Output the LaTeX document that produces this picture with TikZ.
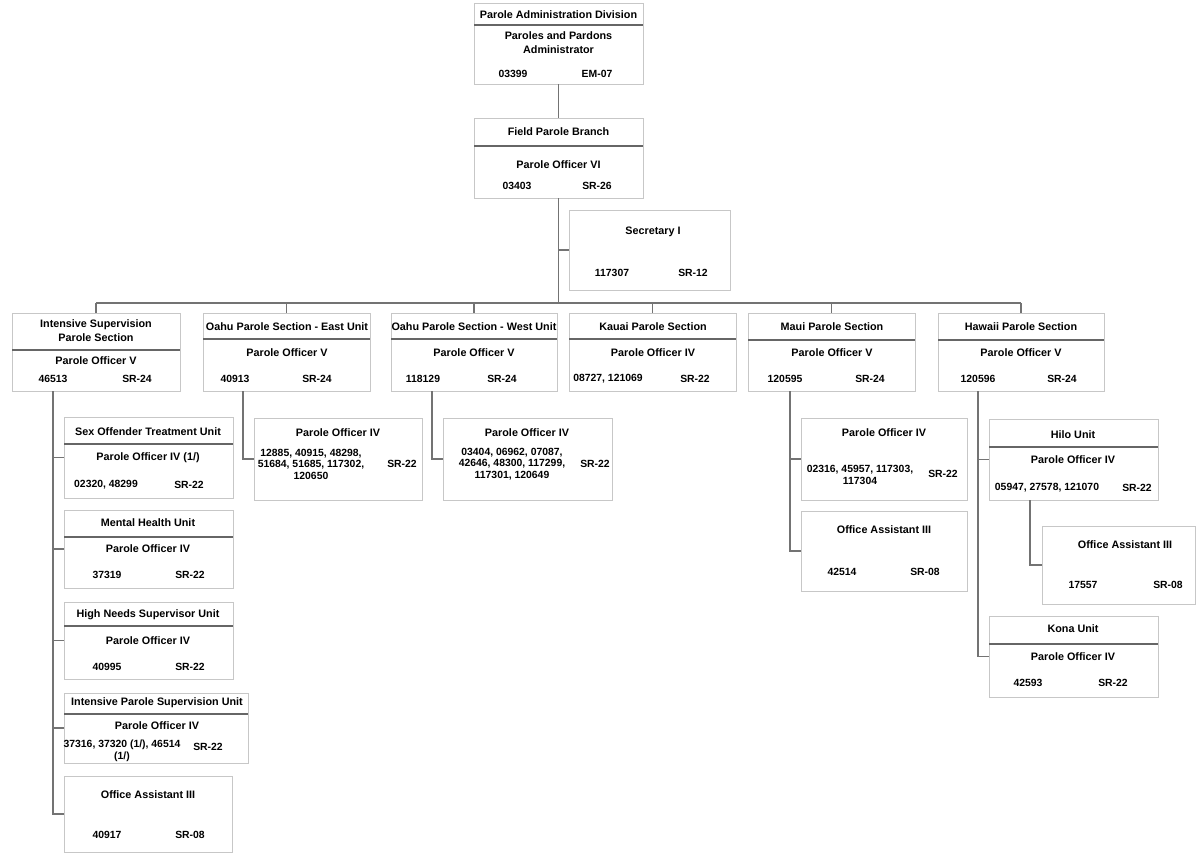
\documentclass[tikz,border=0pt]{standalone}
\usepackage{fontspec}
\setmainfont{Liberation Sans}
\usetikzlibrary{positioning}
\tikzset{
  box/.style={draw=black!22, line width=0.6pt, rectangle, inner sep=0pt, outer sep=0pt},
  sep/.style={draw=black!60, line width=1.3pt},
  conn/.style={draw=black!55, line width=1.3pt},
  lbl/.style={font=\bfseries\fontsize{10.8}{14}\selectfont, inner sep=0pt, align=center},
  num/.style={font=\bfseries\fontsize{10.4}{11.5}\selectfont, inner sep=0pt, align=center},
}
\begin{document}
\begin{tikzpicture}[x=1pt, y=-1pt]
    \useasboundingbox (0,0) rectangle (1196,854);
    \fill[white] (0,0) rectangle (1196,854);

    % division + branch
    \node[box, minimum width=169, minimum height=81] (pad) at (558.5,43.5) {};
    \draw[sep] (pad.west |- 0,25) -- (pad.east |- 0,25);
    \node[lbl] (pad-t) at (558.5,15) {Parole Administration Division};
    \node[lbl] (pad-r) at (558.5,43) {Paroles and Pardons\\Administrator};
    \node[num] (pad-n) at (513,74) {03399};
    \node[num] (pad-g) at (597,74) {EM-07};

    \node[box, minimum width=169, minimum height=80] (fpb) at (558.5,158) {};
    \draw[sep] (fpb.west |- 0,146) -- (fpb.east |- 0,146);
    \node[lbl] (fpb-t) at (558.5,132) {Field Parole Branch};
    \node[lbl] (fpb-r) at (558.5,165) {Parole Officer VI};
    \node[num] (fpb-n) at (517,186) {03403};
    \node[num] (fpb-g) at (597,186) {SR-26};

    \node[box, minimum width=161, minimum height=80] (sec) at (649.5,250) {};
    \node[lbl] (sec-r) at (653,232) {Secretary I};
    \node[num] (sec-n) at (612,273) {117307};
    \node[num] (sec-g) at (693,273) {SR-12};

    % sections
    \node[box, minimum width=168, minimum height=78] (isps) at (96,352) {};
    \draw[sep] (isps.west |- 0,350) -- (isps.east |- 0,350);
    \node[lbl] (isps-t) at (96,331) {Intensive Supervision\\Parole Section};
    \node[lbl] (isps-r) at (96,361) {Parole Officer V};
    \node[num] (isps-n) at (53,379) {46513};
    \node[num] (isps-g) at (137,379) {SR-24};

    \node[box, minimum width=167, minimum height=78] (oe) at (286.5,352) {};
    \draw[sep] (oe.west |- 0,339) -- (oe.east |- 0,339);
    \node[lbl] (oe-t) at (287,327) {Oahu Parole Section - East Unit};
    \node[lbl] (oe-r) at (287,353) {Parole Officer V};
    \node[num] (oe-n) at (235,379) {40913};
    \node[num] (oe-g) at (317,379) {SR-24};

    \node[box, minimum width=166, minimum height=78] (ow) at (474,352) {};
    \draw[sep] (ow.west |- 0,339) -- (ow.east |- 0,339);
    \node[lbl] (ow-t) at (474,327) {Oahu Parole Section - West Unit};
    \node[lbl] (ow-r) at (474,353) {Parole Officer V};
    \node[num] (ow-n) at (423,379) {118129};
    \node[num] (ow-g) at (502,379) {SR-24};

    \node[box, minimum width=167, minimum height=78] (kau) at (652.5,352) {};
    \draw[sep] (kau.west |- 0,339) -- (kau.east |- 0,339);
    \node[lbl] (kau-t) at (653,327) {Kauai Parole Section};
    \node[lbl] (kau-r) at (653,353) {Parole Officer IV};
    \node[num] (kau-n) at (608,379) {08727, 121069};
    \node[num] (kau-g) at (695,379) {SR-22};

    \node[box, minimum width=167, minimum height=78] (mau) at (831.5,352) {};
    \draw[sep] (mau.west |- 0,340) -- (mau.east |- 0,340);
    \node[lbl] (mau-t) at (832,327) {Maui Parole Section};
    \node[lbl] (mau-r) at (832,353) {Parole Officer V};
    \node[num] (mau-n) at (785,379) {120595};
    \node[num] (mau-g) at (870,379) {SR-24};

    \node[box, minimum width=166, minimum height=78] (haw) at (1021,352) {};
    \draw[sep] (haw.west |- 0,340) -- (haw.east |- 0,340);
    \node[lbl] (haw-t) at (1021,327) {Hawaii Parole Section};
    \node[lbl] (haw-r) at (1021,353) {Parole Officer V};
    \node[num] (haw-n) at (978,379) {120596};
    \node[num] (haw-g) at (1062,379) {SR-24};

    % intensive supervision units
    \node[box, minimum width=169, minimum height=81] (sot) at (148.5,457.5) {};
    \draw[sep] (sot.west |- 0,444) -- (sot.east |- 0,444);
    \node[lbl] (sot-t) at (148,432) {Sex Offender Treatment Unit};
    \node[lbl] (sot-r) at (148,458) {Parole Officer IV (1/)};
    \node[num] (sot-n) at (106,485) {02320, 48299};
    \node[num] (sot-g) at (189,485) {SR-22};

    \node[box, minimum width=169, minimum height=78] (mhu) at (148.5,549) {};
    \draw[sep] (mhu.west |- 0,537) -- (mhu.east |- 0,537);
    \node[lbl] (mhu-t) at (148,523) {Mental Health Unit};
    \node[lbl] (mhu-r) at (148,549) {Parole Officer IV};
    \node[num] (mhu-n) at (107,575) {37319};
    \node[num] (mhu-g) at (190,575) {SR-22};

    \node[box, minimum width=169, minimum height=77] (hns) at (148.5,640.5) {};
    \draw[sep] (hns.west |- 0,626) -- (hns.east |- 0,626);
    \node[lbl] (hns-t) at (148,615) {High Needs Supervisor Unit};
    \node[lbl] (hns-r) at (148,641) {Parole Officer IV};
    \node[num] (hns-n) at (107,667) {40995};
    \node[num] (hns-g) at (190,667) {SR-22};

    \node[box, minimum width=184, minimum height=70] (ipsu) at (156,728) {};
    \draw[sep] (ipsu.west |- 0,714) -- (ipsu.east |- 0,714);
    \node[lbl] (ipsu-t) at (157,703) {Intensive Parole Supervision Unit};
    \node[lbl] (ipsu-r) at (157,726) {Parole Officer IV};
    \node[num] (ipsu-n) at (122,751) {37316, 37320 (1/), 46514\\(1/)};
    \node[num] (ipsu-g) at (208,747) {SR-22};

    \node[box, minimum width=168, minimum height=76] (oa1) at (148,814) {};
    \node[lbl] (oa1-r) at (148,795) {Office Assistant III};
    \node[num] (oa1-n) at (107,835) {40917};
    \node[num] (oa1-g) at (190,835) {SR-08};

    % oahu units
    \node[box, minimum width=168, minimum height=82] (oepo) at (338,459) {};
    \node[lbl] (oepo-r) at (338,433) {Parole Officer IV};
    \node[num] (oepo-n) at (311,464) {12885, 40915, 48298,\\51684, 51685, 117302,\\120650};
    \node[num] (oepo-g) at (402,464) {SR-22};

    \node[box, minimum width=169, minimum height=82] (owpo) at (527.5,459) {};
    \node[lbl] (owpo-r) at (527,433) {Parole Officer IV};
    \node[num] (owpo-n) at (512,464) {03404, 06962, 07087,\\42646, 48300, 117299,\\117301, 120649};
    \node[num] (owpo-g) at (595,464) {SR-22};

    % maui units
    \node[box, minimum width=166, minimum height=82] (maupo) at (884,459) {};
    \node[lbl] (maupo-r) at (884,433) {Parole Officer IV};
    \node[num] (maupo-n) at (860,475) {02316, 45957, 117303,\\117304};
    \node[num] (maupo-g) at (943,474) {SR-22};

    \node[box, minimum width=166, minimum height=80] (mauoa) at (884,551) {};
    \node[lbl] (mauoa-r) at (884,530) {Office Assistant III};
    \node[num] (mauoa-n) at (842,572) {42514};
    \node[num] (mauoa-g) at (925,572) {SR-08};

    % hawaii units
    \node[box, minimum width=169, minimum height=81] (hilo) at (1073.5,459.5) {};
    \draw[sep] (hilo.west |- 0,447) -- (hilo.east |- 0,447);
    \node[lbl] (hilo-t) at (1073,435) {Hilo Unit};
    \node[lbl] (hilo-r) at (1073,460) {Parole Officer IV};
    \node[num] (hilo-n) at (1047,488) {05947, 27578, 121070};
    \node[num] (hilo-g) at (1137,488) {SR-22};

    \node[box, minimum width=153, minimum height=78] (hiloa) at (1118.5,565) {};
    \node[lbl] (hiloa-r) at (1125,545) {Office Assistant III};
    \node[num] (hiloa-n) at (1083,585) {17557};
    \node[num] (hiloa-g) at (1168,585) {SR-08};

    \node[box, minimum width=169, minimum height=81] (kona) at (1073.5,656.5) {};
    \draw[sep] (kona.west |- 0,644) -- (kona.east |- 0,644);
    \node[lbl] (kona-t) at (1073,629) {Kona Unit};
    \node[lbl] (kona-r) at (1073,657) {Parole Officer IV};
    \node[num] (kona-n) at (1028,683) {42593};
    \node[num] (kona-g) at (1113,683) {SR-22};

    % connectors
    \coordinate (bus) at (558.5,303);
    \draw[conn] (pad.south) -- (fpb.north);
    \draw[conn] (fpb.south) -- (bus);
    \draw[conn] (fpb.south |- sec.west) -- (sec.west);
    \draw[conn] (isps.north |- bus) -- (haw.north |- bus);
    \foreach \s in {isps, oe, ow, kau, mau, haw} {
        \draw[conn] (\s.north |- bus) -- (\s.north);
    }

    \coordinate (isps-d) at (53,391);
    \foreach \s in {sot, mhu, hns, ipsu, oa1} {
        \draw[conn] (isps-d) |- (\s.west);
    }
    \coordinate (oe-d) at (243,391);
    \draw[conn] (oe-d) |- (oepo.west);
    \coordinate (ow-d) at (432,391);
    \draw[conn] (ow-d) |- (owpo.west);
    \coordinate (mau-d) at (790,391);
    \draw[conn] (mau-d) |- (maupo.west);
    \draw[conn] (mau-d) |- (mauoa.west);
    \coordinate (haw-d) at (978,391);
    \draw[conn] (haw-d) |- (hilo.west);
    \draw[conn] (haw-d) |- (kona.west);
    \coordinate (hilo-d) at (1030,500);
    \draw[conn] (hilo-d) |- (hiloa.west);

\end{tikzpicture}
\end{document}
